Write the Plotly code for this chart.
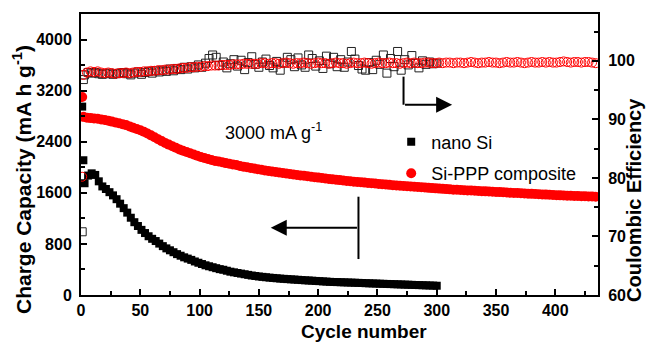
import plotly.graph_objects as go

FONT = "Liberation Sans, Arial, sans-serif"

# ---------------- data ----------------
nano_cycles = [1, 2, 3] + list(range(6, 301, 3))
nano_capacity = [2950, 2110, 1750,
    1870, 1905, 1880, 1780, 1700, 1660, 1610, 1560, 1500, 1430,
    1360, 1290, 1210, 1140, 1080, 1020, 970, 920, 880, 845,
    805, 765, 730, 700, 670, 640, 615, 590, 570, 550,
    525, 505, 485, 465, 450, 435, 420, 405, 395, 380,
    365, 355, 345, 335, 325, 315, 305, 298, 290, 284,
    278, 272, 267, 262, 257, 253, 249, 245, 242, 238,
    234, 230, 227, 224, 220, 217, 213, 210, 206, 204,
    202, 200, 198, 196, 194, 192, 190, 188, 185, 183,
    181, 179, 177, 175, 173, 171, 169, 167, 165, 163,
    161, 159, 157, 155, 153, 151, 149, 147, 145]
nano_ce = [70.8, 96.8, 97.6,
    98.0, 97.9, 98.0, 97.8, 97.7, 97.8, 97.9, 97.7, 97.8, 97.9,
    98.0, 97.8, 97.6, 97.9, 98.1, 97.7, 98.0, 98.2, 97.9, 98.3,
    98.1, 98.4, 98.2, 98.6, 98.3, 98.7, 98.5, 98.9, 98.6, 99.0,
    98.8, 99.3, 98.9, 99.6, 100.4, 101.0, 100.6, 99.2, 99.8, 98.8,
    99.5, 100.2, 99.1, 100.1, 98.5, 99.7, 100.7, 99.4, 98.9, 99.8,
    100.3, 99.2, 98.8, 99.9, 98.4, 99.6, 100.6, 100.2, 99.0, 100.5,
    99.3, 98.9, 101.0, 100.4, 99.1, 100.0, 98.7, 100.8, 99.5, 100.6,
    99.0, 100.2, 98.9, 99.8, 101.6, 100.3, 99.2, 98.6, 98.4, 99.7,
    98.5, 100.1, 99.4, 101.0, 97.9, 100.4, 99.0, 101.6, 98.4, 100.2,
    99.3, 100.9, 99.6, 98.8, 100.0, 99.4, 99.8, 99.5, 99.6]

ppp_cycles = [1, 2] + list(range(5, 436, 3))
ppp_capacity = [3100, 2790,
    2775, 2770, 2765, 2760, 2750, 2740, 2730, 2715, 2700, 2690,
    2675, 2660, 2640, 2620, 2600, 2580, 2555, 2530, 2500, 2470,
    2440, 2410, 2380, 2355, 2330, 2305, 2280, 2260, 2240, 2220,
    2200, 2180, 2160, 2145, 2130, 2115, 2100, 2090, 2080, 2065,
    2055, 2045, 2035, 2020, 2010, 2000, 1990, 1980, 1970, 1960,
    1950, 1942, 1934, 1926, 1918, 1910, 1902, 1894, 1887, 1880,
    1873, 1866, 1859, 1852, 1845, 1838, 1831, 1824, 1817, 1811,
    1805, 1799, 1793, 1787, 1781, 1775, 1770, 1765, 1760, 1755,
    1750, 1745, 1740, 1735, 1730, 1725, 1720, 1715, 1710, 1706,
    1702, 1698, 1694, 1690, 1686, 1682, 1678, 1674, 1670, 1666,
    1662, 1658, 1654, 1650, 1647, 1644, 1641, 1638, 1635, 1632,
    1629, 1626, 1623, 1620, 1617, 1614, 1611, 1608, 1605, 1602,
    1599, 1596, 1593, 1590, 1587, 1584, 1581, 1578, 1575, 1572,
    1569, 1566, 1563, 1560, 1558, 1556, 1554, 1552, 1550, 1548,
    1546, 1544, 1542, 1540]
ppp_ce = [80.2, 97.6,
    98.0, 98.2, 98.1, 98.2, 98.0, 97.9, 98.0, 97.9, 97.8, 97.9,
    97.9, 98.0, 97.9, 98.0, 98.1, 98.1, 98.2, 98.2, 98.3, 98.3,
    98.4, 98.4, 98.5, 98.5, 98.6, 98.6, 98.7, 98.8, 98.8, 98.9,
    98.9, 99.0, 99.0, 99.1, 99.1, 99.2, 99.2, 99.2, 99.3, 99.3,
    99.3, 99.4, 99.4, 99.4, 99.5, 99.5, 99.5, 99.5, 99.5, 99.6,
    99.6, 99.5, 99.6, 99.6, 99.5, 99.6, 99.7, 99.6, 99.5, 99.6,
    99.6, 99.7, 99.6, 99.5, 99.6, 99.7, 99.6, 99.6, 99.5, 99.6,
    99.7, 99.6, 99.6, 99.5, 99.6, 99.7, 99.6, 99.6, 99.7, 99.6,
    99.5, 99.6, 99.7, 99.6, 99.6, 99.7, 99.6, 99.6, 99.5, 99.6,
    99.7, 99.6, 99.7, 99.6, 99.6, 99.7, 99.7, 99.6, 99.6, 99.7,
    99.6, 99.7, 99.7, 99.6, 99.7, 99.7, 99.6, 99.7, 99.8, 99.7,
    99.6, 99.7, 99.7, 99.8, 99.7, 99.7, 99.6, 99.7, 99.8, 99.7,
    99.7, 99.8, 99.7, 99.6, 99.7, 99.8, 99.7, 99.7, 99.8, 99.7,
    99.8, 99.7, 99.7, 99.8, 99.9, 99.8, 99.7, 99.8, 99.8, 99.7,
    99.8, 99.8, 99.7, 99.6]

assert len(nano_cycles) == len(nano_capacity) == len(nano_ce)
assert len(ppp_cycles) == len(ppp_capacity) == len(ppp_ce)

x_ticks = [0, 50, 100, 150, 200, 250, 300, 350, 400]
cap_ticks = [0, 800, 1600, 2400, 3200, 4000]
ce_ticks = [60, 70, 80, 90, 100]

# ---------------- figure ----------------
fig = go.Figure()

fig.add_trace(go.Scatter(x=nano_cycles, y=nano_capacity, mode="markers", name="nano Si",
                         legendgroup="a",
                         marker=dict(symbol="square", size=8, color="black", line=dict(width=0))))
fig.add_trace(go.Scatter(x=ppp_cycles, y=ppp_capacity, mode="markers", name="Si-PPP composite",
                         legendgroup="b",
                         marker=dict(symbol="circle", size=10, color="#ff0000", line=dict(width=0))))
fig.add_trace(go.Scatter(x=nano_cycles, y=nano_ce, mode="markers", yaxis="y2", showlegend=False,
                         marker=dict(symbol="square-open", size=8, color="#222222", line=dict(width=1))))
fig.add_trace(go.Scatter(x=ppp_cycles, y=ppp_ce, mode="markers", yaxis="y2", showlegend=False,
                         marker=dict(symbol="circle-open", size=9, color="#ff0000", line=dict(width=1))))

tickfont = dict(family=FONT, size=16, color="black", weight="bold")
common = dict(showline=True, linecolor="black", linewidth=2, ticks="inside", ticklen=6,
              tickwidth=2, tickcolor="black", showgrid=False, zeroline=False, tickfont=tickfont)

fig.update_layout(
    width=647, height=342,
    margin=dict(l=81, r=49, t=14, b=47),
    paper_bgcolor="white", plot_bgcolor="white",
    font=dict(family=FONT, color="black"),
    xaxis=dict(range=[0, 436], tickvals=x_ticks, mirror=True,
               minor=dict(ticks="inside", ticklen=4, tickwidth=2, tickcolor="black", dtick=25, tick0=0),
               ticklabelstandoff=0, **common),
    yaxis=dict(range=[0, 4400], tickvals=cap_ticks,
               minor=dict(ticks="inside", ticklen=4, tickwidth=2, tickcolor="black", dtick=400, tick0=0),
               ticklabelstandoff=4, **common),
    yaxis2=dict(range=[60, 108], tickvals=ce_ticks, overlaying="y", side="right",
                minor=dict(ticks="inside", ticklen=4, tickwidth=2, tickcolor="black", dtick=5, tick0=60),
                ticklabelstandoff=5, **common),
    legend=dict(x=0.600, y=0.610, xanchor="left", yanchor="top", bgcolor="rgba(0,0,0,0)",
                traceorder="grouped", tracegroupgap=5,
                font=dict(family=FONT, size=18, color="black")),
    showlegend=True,
)

# arrows
fig.add_shape(type="line", xref="x", yref="y", x0=234, x1=234, y0=563, y1=1539,
              line=dict(color="black", width=2))
fig.add_annotation(x=160, y=1053, ax=234, ay=1053, xref="x", yref="y", axref="x", ayref="y",
                   text="", showarrow=True, arrowhead=2, arrowsize=1.6, arrowwidth=2, arrowcolor="black")
fig.add_shape(type="line", xref="x", yref="y2", x0=272, x1=272, y0=92.5, y1=97.3,
              line=dict(color="black", width=2))
fig.add_annotation(x=313, y=92.5, ax=272, ay=92.5, xref="x", yref="y2", axref="x", ayref="y2",
                   text="", showarrow=True, arrowhead=2, arrowsize=1.6, arrowwidth=2, arrowcolor="black")

# texts
fig.add_annotation(x=120, y=2556, xref="x", yref="y", xanchor="left", yanchor="middle",
                   text="3000 mA g<sup>-1</sup>", showarrow=False,
                   font=dict(family=FONT, size=18, color="black"))
fig.add_annotation(x=(22 - 81) / 517, y=(295 - 180) / 281, xref="paper", yref="paper", textangle=-90,
                   xanchor="center", yanchor="middle", showarrow=False,
                   text="<b>Charge Capacity (mA h g<sup>-1</sup>)</b>",
                   font=dict(family=FONT, size=21, color="black"))
fig.add_annotation(x=(634 - 81) / 517, y=(295 - 200) / 281, xref="paper", yref="paper", textangle=-90,
                   xanchor="center", yanchor="middle", showarrow=False,
                   text="<b>Coulombic Efficiency</b>",
                   font=dict(family=FONT, size=20, color="black"))
fig.add_annotation(x=(364 - 81) / 517, y=-(331 - 295) / 281, xref="paper", yref="paper",
                   xanchor="center", yanchor="middle", showarrow=False,
                   text="<b>Cycle number</b>",
                   font=dict(family=FONT, size=19, color="black"))

fig.write_html("out.html")
